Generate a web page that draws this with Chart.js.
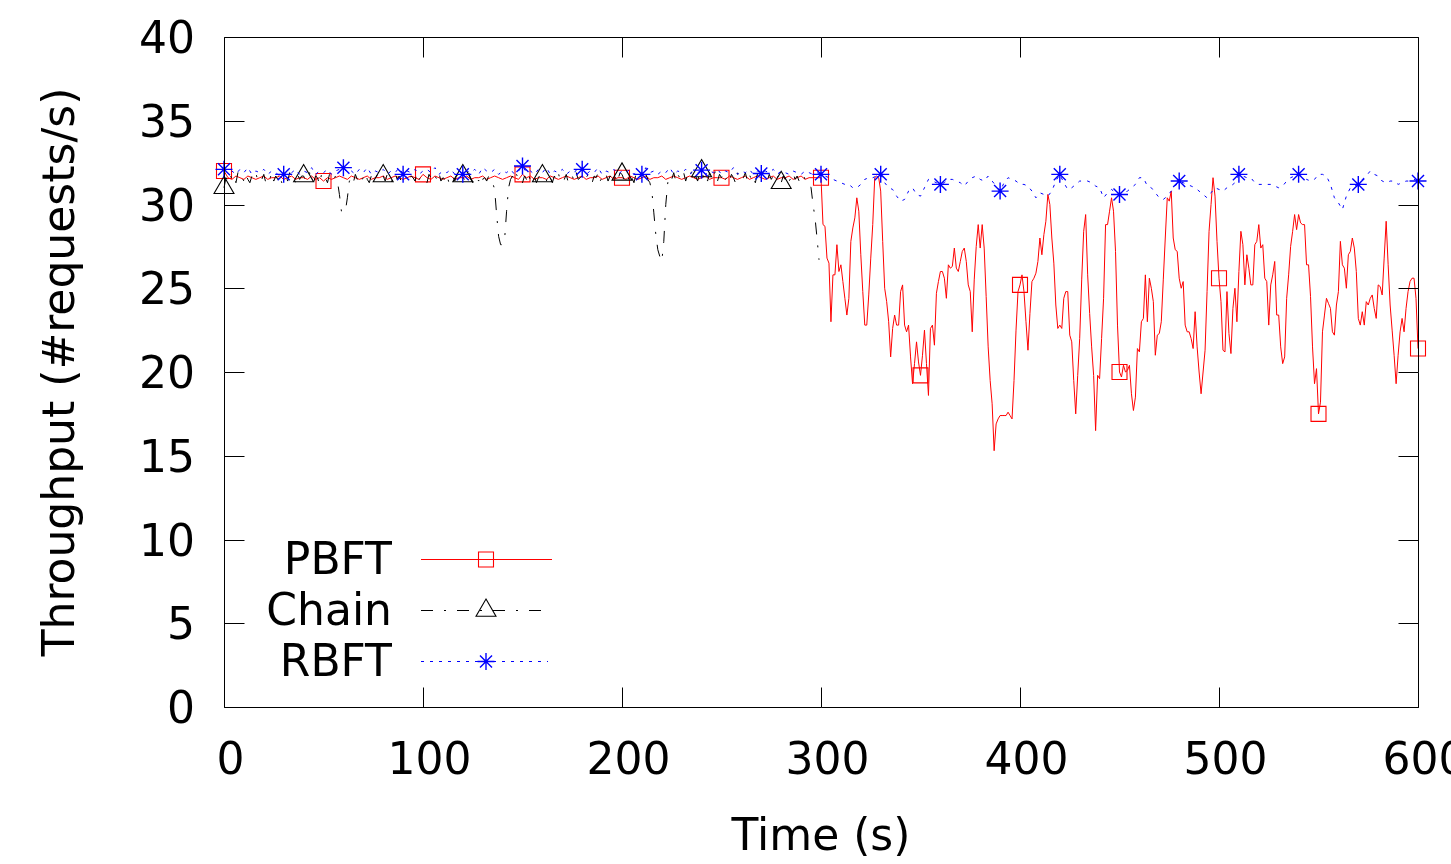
<!DOCTYPE html>
<html>
<head>
<meta charset="utf-8">
<script src="https://cdn.jsdelivr.net/npm/chart.js@4.4.1/dist/chart.umd.min.js"></script>
<style>
  html, body { margin: 0; padding: 0; background: #ffffff; }
  #c { display: block; }
</style>
</head>
<body>
<canvas id="c" width="1451" height="864"></canvas>
<script>
// ---------------- DATA ----------------
const seriesNames = ['PBFT', 'Chain', 'RBFT'];
const xTicks = [0, 100, 200, 300, 400, 500, 600];
const yTicks = [0, 5, 10, 15, 20, 25, 30, 35, 40];
const xTitle = 'Time (s)';
const yTitle = 'Throughput (#requests/s)';

// PBFT, t = 0..298 every 2 s
const pbftEarly = [
  32.0, 31.6, 31.5, 31.7, 31.6, 31.5, 31.7, 31.6, 31.5, 31.6,
  31.7, 31.5, 31.6, 31.6, 31.7, 31.5, 31.6, 31.7, 31.5, 31.6,
  31.6, 31.5, 31.7, 31.5, 31.6, 31.4, 31.6, 31.5, 31.6, 31.7,
  31.6, 31.5, 31.7, 31.6, 31.5, 31.6, 31.7, 31.5, 31.6, 31.6,
  31.7, 31.5, 31.6, 31.7, 31.6, 31.5, 31.6, 31.7, 31.6, 31.5,
  31.8, 31.6, 31.5, 31.7, 31.6, 31.5, 31.6, 31.7, 31.5, 31.6,
  31.6, 31.7, 31.5, 31.6, 31.6, 31.7, 31.5, 31.6, 31.7, 31.6,
  31.5, 31.6, 31.7, 31.6, 31.5, 31.8, 31.6, 31.7, 31.5, 31.6,
  31.6, 31.5, 31.7, 31.6, 31.5, 31.6, 31.7, 31.6, 31.5, 31.6,
  31.7, 31.5, 31.6, 31.6, 31.7, 31.5, 31.6, 31.7, 31.5, 31.6,
  31.6, 31.5, 31.7, 31.6, 31.5, 31.6, 31.7, 31.5, 31.6, 31.6,
  31.7, 31.5, 31.6, 31.7, 31.6, 31.5, 31.6, 31.7, 31.6, 31.5,
  31.6, 31.7, 31.5, 31.6, 31.6, 31.6, 31.5, 31.7, 31.6, 31.5,
  31.6, 31.7, 31.5, 31.6, 31.7, 31.6, 31.5, 31.6, 31.7, 31.5,
  31.6, 31.6, 31.7, 31.5, 31.6, 31.7, 31.5, 31.6, 31.6, 31.6
];
// PBFT, t = 300..600 every 1 s
const pbftLate = [
  31.6, 28.8, 28.7, 26.8, 26.5, 23.0, 25.8, 25.8, 27.6, 26.0,
  26.4, 25.4, 24.4, 23.4, 24.4, 27.8, 28.6, 29.2, 30.4, 29.6,
  27.0, 24.8, 22.8, 22.8, 24.6, 26.8, 28.8, 31.6, 31.7, 31.6,
  30.8, 27.8, 25.0, 24.2, 23.0, 20.9, 22.6, 23.4, 22.8, 22.8,
  24.8, 25.2, 22.8, 22.4, 22.8, 20.9, 19.3, 20.5, 21.8, 20.6,
  19.8, 21.0, 22.5, 20.5, 18.6, 22.6, 22.8, 21.6, 24.7, 25.4,
  26.0, 26.0, 25.6, 24.4, 26.4, 26.2, 26.3, 27.4, 26.2, 26.0,
  26.6, 27.2, 27.4, 26.6, 25.2, 24.8, 22.4, 25.5, 27.5, 28.8,
  27.4, 28.8, 27.4, 24.5, 21.5, 19.5, 18.1, 15.3, 16.9, 17.2,
  17.4, 17.4, 17.4, 17.4, 17.6, 17.4, 17.2, 19.5, 22.5, 24.8,
  25.2, 25.8, 24.8, 23.0, 21.3, 23.5, 25.4, 25.6, 25.9, 26.6,
  28.0, 27.0, 28.2, 29.0, 30.6, 30.0, 28.0, 26.5, 24.0, 22.6,
  22.8, 22.6, 24.4, 24.8, 24.8, 22.2, 21.8, 19.5, 17.5, 19.8,
  22.0, 25.5, 28.4, 29.4, 25.8, 23.5, 21.5, 19.8, 16.5, 19.8,
  19.6, 22.0, 24.4, 28.8, 28.8, 29.6, 30.4, 29.6, 27.2, 22.8,
  20.0, 19.7, 20.4, 20.0, 20.1, 20.4, 18.7, 17.7, 18.5, 21.4,
  21.2, 23.0, 23.2, 25.8, 23.0, 25.6, 25.0, 24.2, 21.0, 22.2,
  22.3, 23.0, 25.5, 28.0, 30.4, 30.2, 30.8, 28.0, 27.3, 27.2,
  25.6, 25.0, 25.4, 22.8, 22.4, 22.4, 22.0, 21.4, 23.6, 21.5,
  20.0, 18.7, 20.0, 21.3, 24.8, 28.4, 30.0, 31.6, 30.5, 27.8,
  25.6, 24.2, 21.3, 21.2, 24.8, 22.3, 21.1, 23.8, 25.0, 23.0,
  26.0, 28.4, 27.6, 25.2, 27.0, 26.2, 25.2, 25.2, 27.6, 27.8,
  28.8, 27.4, 27.6, 25.6, 25.4, 22.8, 25.2, 25.8, 26.6, 23.4,
  23.4, 21.5, 20.5, 20.9, 24.4, 25.8, 27.5, 28.4, 29.4, 28.5,
  29.4, 28.9, 28.8, 28.8, 26.4, 26.4, 24.5, 21.5, 19.3, 20.2,
  17.5, 18.2, 22.4, 23.4, 24.4, 24.1, 23.8, 22.4, 22.2, 24.0,
  24.8, 27.8, 26.4, 26.2, 25.0, 27.0, 27.2, 28.0, 27.4, 26.0,
  23.2, 22.8, 23.6, 22.8, 24.2, 24.0, 24.4, 24.6, 23.8, 23.2,
  25.2, 25.1, 24.6, 26.8, 29.0, 26.4, 24.0, 22.5, 21.0, 19.3,
  21.0, 22.4, 23.2, 22.4, 23.8, 24.8, 25.4, 25.6, 25.6, 24.4,
  21.4
];
// Chain, t = 0..299 every 1 s
const chainValues = [
  31.0, 31.6, 31.4, 31.8, 31.5, 31.7, 31.3, 31.9, 31.5, 31.6,
  31.4, 31.8, 31.5, 31.3, 31.7, 31.6, 31.9, 31.4, 31.6, 31.5,
  31.8, 31.3, 31.6, 31.5, 31.9, 31.4, 31.7, 31.5, 31.8, 31.3,
  31.6, 31.7, 31.4, 31.9, 31.5, 31.6, 31.3, 31.8, 31.5, 31.7,
  31.7, 31.4, 31.6, 31.9, 31.5, 31.3, 31.7, 31.6, 31.2, 31.8,
  31.5, 31.6, 31.3, 31.8, 31.6, 31.4, 31.7, 31.4, 30.6, 29.6,
  29.5, 29.6, 30.4, 31.4, 31.6, 31.3, 31.8, 31.5, 31.7, 31.4,
  31.6, 31.9, 31.5, 31.3, 31.7, 31.6, 31.4, 31.8, 31.5, 31.6,
  31.7, 31.4, 31.8, 31.5, 31.3, 31.6, 31.9, 31.5, 31.7, 31.4,
  31.6, 31.8, 31.5, 31.3, 31.7, 31.6, 31.4, 31.9, 31.5, 31.6,
  31.7, 31.5, 31.3, 31.8, 31.6, 31.4, 31.7, 31.5, 31.9, 31.4,
  31.6, 31.5, 31.8, 31.3, 31.6, 31.7, 31.4, 31.8, 31.5, 31.6,
  31.7, 31.4, 31.6, 31.9, 31.5, 31.3, 31.7, 31.6, 31.4, 31.8,
  31.5, 31.6, 31.4, 31.7, 31.5, 31.3, 30.9, 29.4, 28.1, 27.6,
  27.6, 27.9, 29.6, 31.0, 31.5, 31.7, 31.4, 31.8, 31.5, 31.6,
  31.3, 31.7, 31.5, 31.9, 31.4, 31.6, 31.7, 31.3, 31.6, 31.8,
  31.7, 31.5, 31.4, 31.8, 31.6, 31.3, 31.7, 31.5, 31.9, 31.4,
  31.6, 31.5, 31.8, 31.3, 31.6, 31.7, 31.4, 31.9, 31.5, 31.6,
  31.7, 31.4, 31.6, 31.8, 31.5, 31.3, 31.7, 31.6, 31.9, 31.4,
  31.6, 31.5, 31.8, 31.4, 31.7, 31.6, 31.3, 31.8, 31.5, 31.9,
  31.8, 31.5, 31.7, 31.4, 31.9, 31.6, 31.3, 31.8, 31.5, 31.7,
  31.6, 31.4, 31.8, 31.5, 31.3, 30.8, 29.5, 28.2, 27.3, 26.9,
  26.6, 27.8, 30.0, 31.3, 31.7, 31.5, 31.9, 31.4, 31.8, 31.6,
  31.5, 31.9, 31.4, 31.8, 31.6, 32.0, 31.5, 31.7, 31.4, 31.9,
  32.0, 31.6, 31.8, 31.4, 31.9, 31.5, 31.7, 32.0, 31.4, 31.8,
  31.6, 31.9, 31.5, 31.7, 31.4, 31.8, 31.6, 31.3, 31.9, 31.5,
  31.7, 31.6, 31.9, 31.4, 31.8, 31.5, 31.7, 31.3, 31.8, 31.6,
  31.5, 31.9, 31.6, 31.4, 31.8, 31.5, 31.7, 31.4, 31.6, 31.8,
  31.3, 31.7, 31.5, 31.8, 31.4, 31.6, 31.9, 31.5, 31.7, 31.4,
  31.6, 31.8, 31.5, 31.4, 31.4, 31.0, 30.0, 29.2, 28.0, 26.7
];
// RBFT, t = 0..600 every 2 s
const rbftValues = [
  32.1, 31.9, 32.0, 31.8, 32.1, 31.9, 32.2, 31.8, 32.0, 31.9,
  32.1, 31.8, 32.0, 31.9, 31.7, 31.8, 32.0, 31.9, 32.1, 31.8,
  32.0, 31.9, 32.2, 31.8, 32.0, 31.9, 32.1, 31.8, 32.0, 32.1,
  32.2, 31.9, 32.0, 31.8, 32.1, 31.9, 32.2, 31.8, 32.0, 31.9,
  32.1, 31.8, 32.0, 31.9, 32.2, 31.8, 32.0, 31.9, 32.1, 31.8,
  32.0, 32.1, 31.9, 32.2, 31.8, 32.0, 31.9, 32.1, 31.8, 32.0,
  31.8, 32.0, 31.9, 32.1, 31.8, 32.2, 32.0, 31.9, 32.1, 31.8,
  32.0, 31.9, 32.1, 31.8, 32.0, 32.3, 31.9, 32.0, 31.8, 32.1,
  31.9, 32.2, 31.8, 32.0, 31.9, 32.1, 31.8, 32.0, 31.9, 32.2,
  32.1, 31.8, 32.0, 31.9, 32.2, 31.8, 32.0, 31.9, 32.1, 31.8,
  32.0, 31.9, 32.1, 31.8, 32.0, 31.8, 32.2, 31.9, 32.0, 31.8,
  32.0, 31.9, 32.2, 31.8, 32.0, 31.9, 32.1, 31.8, 32.0, 31.9,
  32.05, 31.8, 32.0, 31.9, 32.1, 31.8, 32.0, 31.9, 32.2, 31.8,
  32.0, 31.9, 32.1, 31.8, 32.0, 31.85, 32.0, 31.9, 32.1, 31.8,
  32.0, 31.9, 31.8, 32.0, 31.9, 31.8, 32.0, 31.9, 31.8, 31.9,
  31.8, 31.7, 31.6, 31.5, 31.4, 31.3, 31.2, 31.2, 31.0, 31.0,
  31.2, 31.5, 31.6, 31.6, 31.7, 31.8, 31.3, 31.0, 30.9, 30.5,
  30.2, 30.3, 30.8, 31.0, 30.6, 30.5, 31.0, 31.5, 31.4, 31.3,
  31.2, 31.3, 31.5, 31.5, 31.4, 31.3, 31.1, 31.4, 31.6, 31.7,
  31.5, 31.4, 31.7, 31.4, 31.1, 30.8, 31.3, 31.6, 31.5, 31.4,
  31.2, 31.2, 31.1, 30.8, 30.4, 30.7, 30.6, 30.5, 30.8, 31.4,
  31.8, 31.3, 30.9, 31.0, 31.2, 31.4, 31.4, 31.4, 31.3, 31.1,
  31.0, 30.4, 30.7, 30.9, 30.7, 30.6, 30.7, 30.8, 31.0, 31.2,
  31.6, 31.6, 31.1, 31.0, 30.7, 30.4, 30.3, 30.5, 30.8, 31.1,
  31.4, 31.3, 31.2, 31.1, 31.0, 30.8, 30.6, 30.4, 30.7, 31.0,
  30.9, 30.8, 31.0, 31.1, 31.3, 31.8, 31.7, 31.6, 31.6, 31.3,
  31.2, 31.2, 31.2, 31.2, 31.1, 31.0, 31.1, 31.4, 31.6, 31.7,
  31.8, 31.7, 31.5, 31.4, 31.5, 31.8, 31.8, 31.7, 31.2, 30.4,
  30.1, 29.7, 30.5, 31.0, 31.1, 31.2, 31.5, 31.7, 32.0, 31.8,
  31.7, 31.4, 31.3, 31.4, 31.4, 31.2, 31.3, 31.4, 31.4, 31.5,
  31.4
];
// marker spacing (seconds) per series
const markerEvery = [50, 40, 30];

// ---------------- BUILD ----------------
const FONT = '"DejaVu Sans", "Liberation Sans", sans-serif';
const FS = 44;

const pbftData = pbftEarly.map((v, i) => ({ x: i * 2, y: v }))
  .concat(pbftLate.map((v, i) => ({ x: 300 + i, y: v })));
const chainData = chainValues.map((v, i) => ({ x: i, y: v }));
const rbftData = rbftValues.map((v, i) => ({ x: i * 2, y: v }));

function markerRadius(every, r) {
  return (ctx) => (ctx.raw && ctx.raw.x % every === 0) ? r : 0;
}

const styles = [
  { color: '#ff0000', dash: [], pointStyle: 'rect', radius: 10.6, pw: 1.1 },
  { color: '#000000', dash: [12, 11, 2, 11], pointStyle: 'triangle', radius: 11.5, pw: 1.1 },
  { color: '#0000ff', dash: [3, 6], pointStyle: 'star', radius: 8.5, pw: 1.4 }
];
const allData = [pbftData, chainData, rbftData];

const datasets = allData.map((d, k) => ({
  label: seriesNames[k],
  data: d,
  borderColor: styles[k].color,
  borderWidth: 1,
  borderDash: styles[k].dash,
  pointStyle: styles[k].pointStyle,
  pointRadius: markerRadius(markerEvery[k], styles[k].radius),
  pointHoverRadius: 0,
  pointBorderColor: styles[k].color,
  pointBackgroundColor: 'rgba(0,0,0,0)',
  pointBorderWidth: styles[k].pw,
  tension: 0,
  fill: false,
  clip: false,
  order: 2 - k
}));

const gnuplotFrame = {
  id: 'gnuplotFrame',
  afterDraw(chart) {
    const ctx = chart.ctx;
    const a = chart.chartArea;
    const xs = chart.scales.x, ys = chart.scales.y;
    ctx.save();
    ctx.strokeStyle = '#000';
    ctx.lineWidth = 1;
    ctx.setLineDash([]);
    // border
    const L = Math.round(a.left) + 0.5, R = Math.round(a.right) + 0.5;
    const T = Math.round(a.top) + 0.5, B = Math.round(a.bottom) + 0.5;
    ctx.beginPath();
    ctx.rect(L, T, R - L, B - T);
    ctx.stroke();
    // ticks (inward, mirrored)
    const TL = 20;
    ctx.beginPath();
    yTicks.forEach(v => {
      const y = Math.round(ys.getPixelForValue(v)) + 0.5;
      ctx.moveTo(L, y); ctx.lineTo(L + TL, y);
      ctx.moveTo(R, y); ctx.lineTo(R - TL, y);
    });
    xTicks.forEach(v => {
      const x = Math.round(xs.getPixelForValue(v)) + 0.5;
      ctx.moveTo(x, B); ctx.lineTo(x, B - TL);
      ctx.moveTo(x, T); ctx.lineTo(x, T + TL);
    });
    ctx.stroke();
    // tick labels
    ctx.fillStyle = '#000';
    ctx.font = FS + 'px ' + FONT;
    ctx.textBaseline = 'alphabetic';
    ctx.textAlign = 'right';
    yTicks.forEach(v => {
      const y = ys.getPixelForValue(v);
      ctx.fillText(String(v), 195, y + 16);
    });
    ctx.textAlign = 'center';
    xTicks.forEach(v => {
      const x = xs.getPixelForValue(v);
      ctx.fillText(String(v), x + 6.5, 774);
    });
    // axis titles
    ctx.fillText(xTitle, (a.left + a.right) / 2, 850);
    ctx.save();
    ctx.translate(74, (a.top + a.bottom) / 2);
    ctx.rotate(-Math.PI / 2);
    ctx.textAlign = 'center';
    ctx.fillText(yTitle, 0, 0);
    ctx.restore();
    // legend
    const legY = [559.5, 610.5, 661.5];
    const legEnd = [552, 548, 548];
    for (let k = 0; k < 3; k++) {
      const st = styles[k];
      ctx.fillStyle = '#000';
      ctx.textAlign = 'right';
      ctx.fillText(seriesNames[k], 392, legY[k] + 14);
      ctx.strokeStyle = st.color;
      ctx.lineWidth = 1;
      ctx.setLineDash(st.dash);
      ctx.beginPath();
      ctx.moveTo(421, legY[k]);
      ctx.lineTo(legEnd[k], legY[k]);
      ctx.stroke();
      ctx.setLineDash([]);
      ctx.fillStyle = 'rgba(0,0,0,0)';
      ctx.lineWidth = st.pw;
      Chart.helpers.drawPoint(ctx, {
        pointStyle: st.pointStyle, radius: st.radius, rotation: 0, borderWidth: st.pw
      }, 486, legY[k]);
    }
    ctx.restore();
  }
};

new Chart(document.getElementById('c'), {
  type: 'line',
  data: { datasets },
  options: {
    responsive: false,
    devicePixelRatio: 1,
    animation: false,
    events: [],
    parsing: true,
    layout: { padding: { left: 224, top: 37, right: 33, bottom: 157 } },
    plugins: { legend: { display: false }, tooltip: { enabled: false } },
    scales: {
      x: { type: 'linear', min: 0, max: 600, display: false },
      y: { type: 'linear', min: 0, max: 40, display: false }
    }
  },
  plugins: [gnuplotFrame]
});
</script>
</body>
</html>
